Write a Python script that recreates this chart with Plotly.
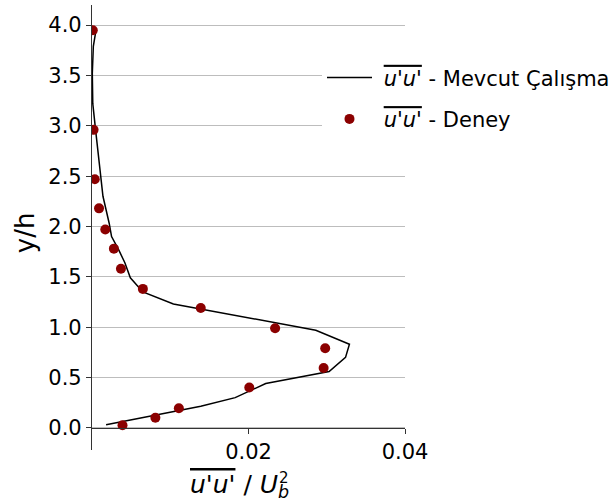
import plotly.graph_objects as go

# Simulation (Mevcut Çalışma) profile
sim_x = [0.0018, 0.0139, 0.0183, 0.0222, 0.0303, 0.0324, 0.0329, 0.0286, 0.0104,
         0.0065, 0.0049, 0.0042, 0.0034, 0.0025, 0.0022, 0.0014, 0.0005, 0.0001,
         0.00004, 0.00017, 0.00047]
sim_y = [0.03, 0.215, 0.30, 0.44, 0.56, 0.70, 0.83, 0.97, 1.23,
         1.35, 1.49, 1.64, 1.77, 1.90, 2.03, 2.30, 2.93, 3.22,
         3.52, 3.79, 3.93]

# Experiment (Deney) points
exp_x = [0.0039, 0.0081, 0.0111, 0.0201, 0.0296, 0.0298, 0.0234, 0.0139,
         0.0065, 0.0037, 0.0028, 0.0017, 0.0009, 0.00035, 0.0002, 0.0001]
exp_y = [0.026, 0.10, 0.195, 0.40, 0.595, 0.79, 0.99, 1.19,
         1.38, 1.58, 1.78, 1.97, 2.18, 2.47, 2.96, 3.95]

y_ticks = [0.0, 0.5, 1.0, 1.5, 2.0, 2.5, 3.0, 3.5, 4.0]
x_ticks = [0.02, 0.04]

uu = '<span style="text-decoration:overline"><i>u\'u\'</i></span>'

FONT = "DejaVu Sans"
y_min, y_max = -0.22, 4.2
PW, PH = 313, 445.5  # plot area in px


def px_x(p):
    return (p - 92) / PW


def px_y(p):
    return (450 - p) / PH


fig = go.Figure()
fig.add_trace(go.Scatter(x=sim_x, y=sim_y, mode="lines",
                         line=dict(color="black", width=1.5),
                         name="\u00a0" + uu + " - Mevcut Çalışma", legendgroup="a"))
fig.add_trace(go.Scatter(x=exp_x, y=exp_y, mode="markers",
                         marker=dict(color="#8b0000", size=10),
                         name="\u00a0" + uu + " - Deney", legendgroup="b"))

fig.update_layout(
    width=612, height=504,
    margin=dict(l=92, r=207, t=5, b=54, autoexpand=False),
    paper_bgcolor="white", plot_bgcolor="white",
    font=dict(family=FONT, size=21, color="black"),
    showlegend=True,
    legend=dict(x=px_x(322), y=px_y(57), xanchor="left", yanchor="top",
                bgcolor="white", font=dict(size=21), tracegroupgap=11,
                itemwidth=45),
    xaxis=dict(range=[0, 0.04], tickvals=x_ticks, ticktext=["0.02", "0.04"],
               anchor="free", position=(0 - y_min) / (y_max - y_min),
               showline=True, linecolor="#333", linewidth=1.2,
               ticks="outside", ticklen=5, tickcolor="#333",
               showgrid=False, zeroline=False, tickfont=dict(size=21)),
    yaxis=dict(range=[y_min, y_max], tickvals=y_ticks,
               ticktext=[f"{v:.1f}" for v in y_ticks],
               showline=True, linecolor="#333", linewidth=1.2,
               ticks="outside", ticklen=5, tickcolor="#333",
               showgrid=True, gridcolor="#bdbdbd", gridwidth=1,
               zeroline=False, tickfont=dict(size=21)),
    annotations=[
        dict(text=uu + " / <i>U</i><sub><i>b</i></sub>",
             xref="paper", yref="paper", x=px_x(291), y=px_y(486),
             xanchor="right", yanchor="middle", showarrow=False,
             font=dict(size=25)),
        dict(text="2",
             xref="paper", yref="paper", x=px_x(284), y=px_y(478),
             xanchor="center", yanchor="middle", showarrow=False,
             font=dict(size=15)),
        dict(text="y/h", xref="paper", yref="paper",
             x=px_x(25), y=px_y(233), textangle=-90,
             xanchor="center", yanchor="middle", showarrow=False,
             font=dict(size=26)),
    ],
)

fig.write_html("out.html")
